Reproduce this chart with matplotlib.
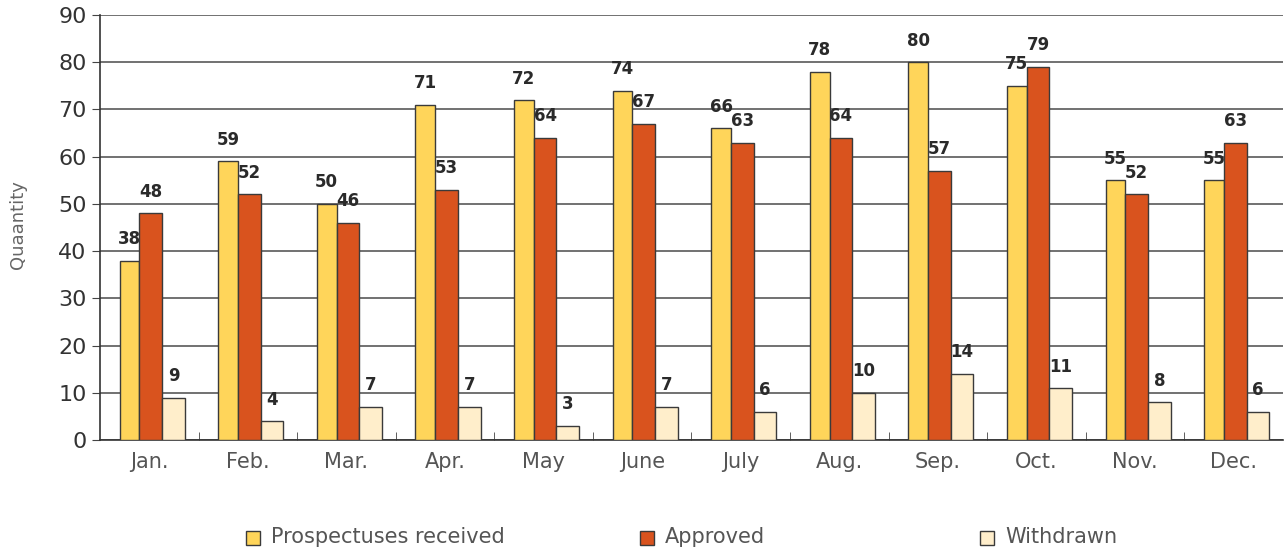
import matplotlib.pyplot as plt
from matplotlib.patches import Rectangle
import numpy as np

months = ["Jan.", "Feb.", "Mar.", "Apr.", "May", "June", "July", "Aug.", "Sep.", "Oct.", "Nov.", "Dec."]
received = [38, 59, 50, 71, 72, 74, 66, 78, 80, 75, 55, 55]
approved = [48, 52, 46, 53, 64, 67, 63, 64, 57, 79, 52, 63]
withdrawn = [9, 4, 7, 7, 3, 7, 6, 10, 14, 11, 8, 6]

series = [
    ("Prospectuses received", received, "#FFD55A"),
    ("Approved", approved, "#D9531E"),
    ("Withdrawn", withdrawn, "#FFEECB"),
]

fig = plt.figure(figsize=(12.87, 5.5), dpi=100)
ax = fig.add_axes([100 / 1287, 110 / 550, 1183 / 1287, 425 / 550])

x = np.arange(len(months))
widths = [0.2, 0.23, 0.23]
offsets = [-0.2, 0.015, 0.245]

for (name, vals, color), off, w in zip(series, offsets, widths):
    ax.bar(x + off, vals, width=w, color=color, edgecolor="#3a3a3a",
           linewidth=1.0, zorder=3, label=name)
    # value labels above each bar
    for xi, v in zip(x, vals):
        ax.annotate(str(v), (xi + off, v), xytext=(0, 9), textcoords="offset points",
                    ha="center", va="bottom", fontsize=12, fontweight="bold", color="#2a2a2a")

ax.set_xlim(-0.5, 11.5)
ax.set_ylim(0, 90)
ax.set_yticks(range(0, 91, 10))
ax.yaxis.grid(True, color="#4a4a4a", linewidth=1.1, zorder=0)
ax.set_axisbelow(True)

ax.set_xticks(x)
ax.set_xticklabels(months, fontsize=15, color="#555555")
ax.tick_params(axis="x", length=0, pad=9)
ax.set_xticks(np.arange(0.5, 11.5, 1), minor=True)
ax.tick_params(axis="x", which="minor", length=6, direction="in", color="#444444")
ax.tick_params(axis="y", labelsize=16, labelcolor="#333333", length=6, color="#444444")

for side in ["top", "right"]:
    ax.spines[side].set_visible(False)
for side in ["left", "bottom"]:
    ax.spines[side].set_color("#333333")
    ax.spines[side].set_linewidth(1.2)

fig.text(18 / 1287, 1 - 225 / 550, "Quaantity", rotation=90, ha="center", va="center",
         fontsize=13, color="#666666")

# legend drawn by hand, entries at fixed positions like the original
legend_x = [246, 640, 980]
for (name, vals, color), lx in zip(series, legend_x):
    fig.patches.append(Rectangle((lx / 1287, 1 - 545 / 550), 14 / 1287, 14 / 550,
                                 transform=fig.transFigure, facecolor=color,
                                 edgecolor="#3a3a3a", linewidth=1.0))
    fig.text((lx + 25) / 1287, 1 - 537 / 550, name, ha="left", va="center",
             fontsize=15, color="#555555")

fig.savefig("out.png", dpi=100)
